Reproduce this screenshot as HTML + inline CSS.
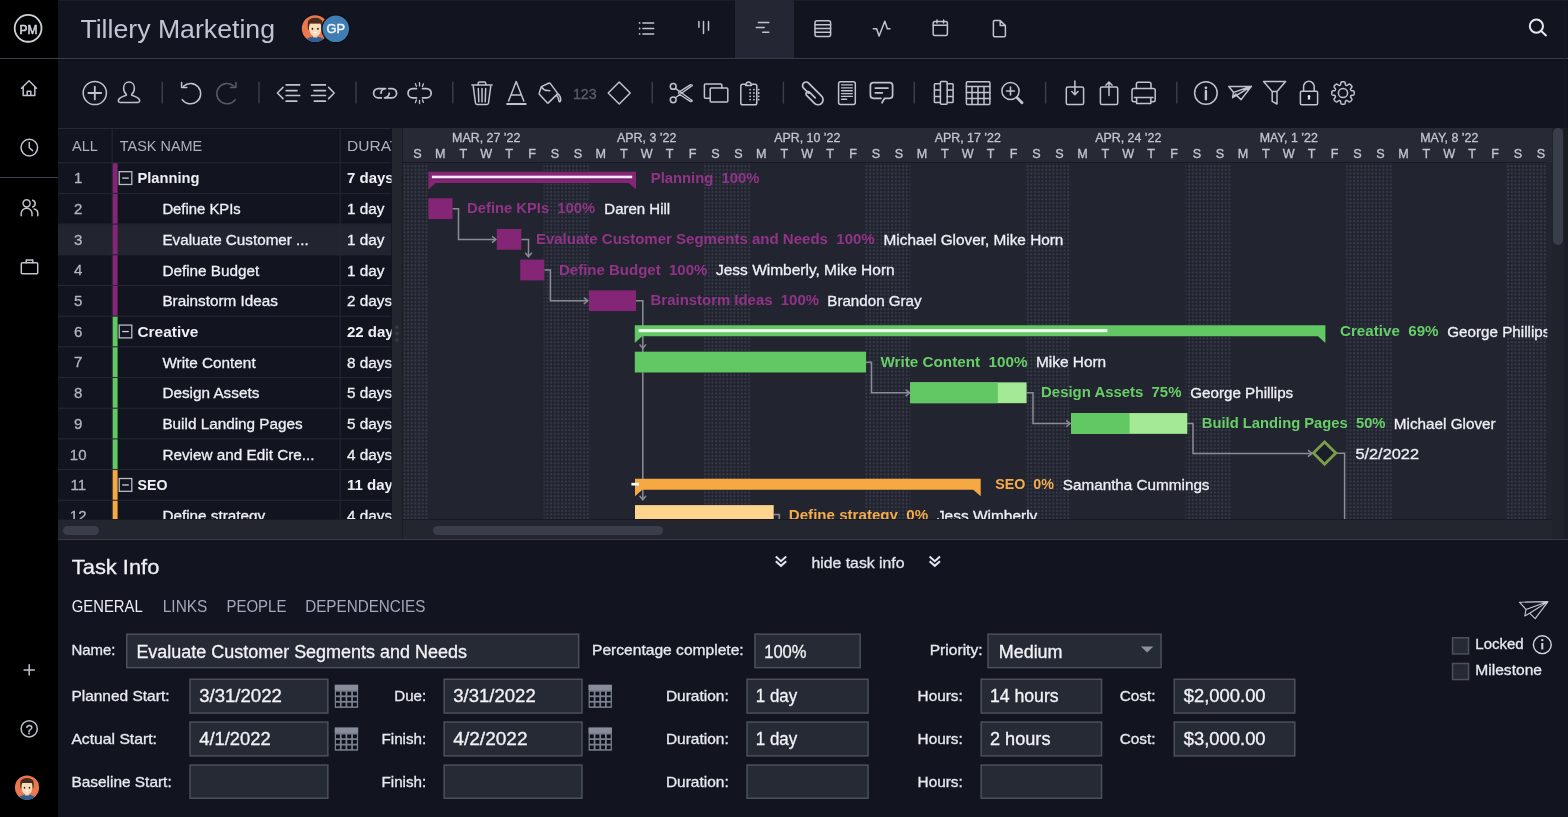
<!DOCTYPE html>
<html lang="en"><head><meta charset="utf-8"><title>Tillery Marketing - Gantt</title>
<style>
*{margin:0;padding:0;box-sizing:border-box}
html,body{width:1568px;height:817px;overflow:hidden;background:#121520;font-family:'Liberation Sans', Arial, Helvetica, sans-serif}
.abs{position:absolute}
svg.ov{position:absolute;left:0;top:0;overflow:hidden;will-change:transform}
svg text{font-family:'Liberation Sans', Arial, Helvetica, sans-serif}
.ic{fill:none;stroke:#c1c3cd;stroke-width:1.5;stroke-linecap:round;stroke-linejoin:round}
</style></head><body>

<div class="abs" style="left:0px;top:0px;width:58.00px;height:817.00px;background:#000000;"></div>
<div class="abs" style="left:58px;top:0px;width:1510.00px;height:57.90px;background:#121520;"></div>
<div class="abs" style="left:58px;top:0px;width:1510.00px;height:1.00px;background:#1b1e29;"></div>
<div class="abs" style="left:734.5px;top:0px;width:59.50px;height:57.90px;background:#242733;"></div>
<div class="abs" style="left:0px;top:57.9px;width:1568.00px;height:1.30px;background:#3b3e4b;"></div>
<div class="abs" style="left:58px;top:59.2px;width:1510.00px;height:1.00px;background:#0d1019;"></div>
<div class="abs" style="left:58px;top:60.2px;width:1510.00px;height:67.80px;background:#121520;"></div>
<div class="abs" style="left:0px;top:177.3px;width:58.00px;height:1.20px;background:#3b3e4b;"></div>
<div class="abs" style="left:58px;top:128px;width:333.50px;height:391.00px;background:#121520;"></div>
<div class="abs" style="left:391.5px;top:128px;width:10.80px;height:412.00px;background:#23262f;"></div>
<div class="abs" style="left:402.3px;top:128px;width:0.90px;height:412.00px;background:#1a1d26;"></div>
<div class="abs" style="left:403.2px;top:128px;width:1149.10px;height:391.00px;background:#22252f;"></div>
<div class="abs" style="left:403.2px;top:128px;width:1149.10px;height:34.20px;background:#272a35;"></div>
<div class="abs" style="left:403.2px;top:162.1px;width:1143.30px;height:1.40px;background:#171a22;"></div>
<div class="abs" style="left:1552.3px;top:128px;width:15.70px;height:412.00px;background:#20232c;"></div>
<div class="abs" style="left:1563.5px;top:128px;width:4.50px;height:412.00px;background:#1a1d26;"></div>
<div class="abs" style="left:1563.6px;top:0px;width:1.00px;height:128.00px;background:#161923;"></div>
<div class="abs" style="left:1553.4px;top:128.2px;width:9.70px;height:117.30px;background:#3a3e4b;border-radius:5px"></div>
<div class="abs" style="left:58px;top:519px;width:333.50px;height:21.00px;background:#23262f;"></div>
<div class="abs" style="left:403.2px;top:519px;width:1149.10px;height:21.00px;background:#23262f;"></div>
<div class="abs" style="left:62.5px;top:525.5px;width:36.50px;height:9.00px;background:#3a3e4b;border-radius:5px"></div>
<div class="abs" style="left:433px;top:525.5px;width:230.00px;height:9.00px;background:#3a3e4b;border-radius:5px"></div>
<div class="abs" style="left:58px;top:538.8px;width:1510.00px;height:1.60px;background:#383b47;"></div>
<div class="abs" style="left:58px;top:518.6px;width:333.50px;height:1.00px;background:#171a22;"></div>
<div class="abs" style="left:403.2px;top:518.6px;width:1149.10px;height:1.00px;background:#171a22;"></div>
<div class="abs" style="left:58px;top:540.2px;width:1510.00px;height:276.80px;background:#121520;"></div>
<svg class="ov" width="1568" height="817" viewBox="0 0 1568 817"><circle cx="28.1" cy="28.35" r="13.4" fill="none" stroke="#cfd1d8" stroke-width="1.8"/>
<text x="19.50" y="33.70" font-size="13.2" fill="#d3d5dd" textLength="17.9" lengthAdjust="spacingAndGlyphs" stroke="#d3d5dd" stroke-width="0.6">PM</text>
<path class="ic" d="M21.5,88.2 L29,80.8 L36.5,88.2 M23.2,86.6 V95.6 H34.8 V86.6 M27.2,95.6 V91.2 H30.8 V95.6"/>
<circle class="ic" cx="29.3" cy="147.6" r="8.3"/><path class="ic" d="M29.3,142.6 V147.8 L32.6,150.6"/>
<path class="ic" d="M26.6,199.8 a3.6,3.6 0 1,1 -0.01,0 Z M21.2,215.8 v-2.2 a5.4,5.4 0 0,1 10.8,0 v2.2 M32.6,200.3 a3.4,3.4 0 0,1 0,6.6 M34.2,209 a4.6,4.6 0 0,1 3.6,4.6 v2.2"/>
<rect class="ic" x="21.3" y="262.8" width="16.4" height="11" rx="1"/><path class="ic" d="M26.2,262.8 v-2.8 h6.6 v2.8"/>
<path class="ic" d="M29.2,664.8 V675 M24.1,669.9 H34.3"/>
<circle class="ic" cx="29.2" cy="728.8" r="8.1"/>
<text x="29.20" y="733.60" font-size="12.5" fill="#c9cbd5" text-anchor="middle" stroke="#c9cbd5" stroke-width="0.3">?</text>
<g transform="translate(27,787.6) scale(1.008)"><circle r="12" fill="#e9784e"/><clipPath id="avc27"><circle r="12"/></clipPath><g clip-path="url(#avc27)" transform="translate(0,0)"><path d="M-9,13 Q-8.5,7.6 -2,7.2 H2 Q8.5,7.6 9,13 Z" fill="#2d5f98"/><path d="M-1.8,4.5 h3.6 v3.4 h-3.6 Z" fill="#f4cfa8"/><path d="M-5.8,-4.5 Q-6,6.8 0,6.9 Q6,6.8 5.8,-4.5 Z" fill="#f9dcb9"/><path d="M-6.4,1 Q-7.2,-5 -6,-7.4 Q-3,-9.8 0,-9.6 Q3,-9.8 6,-7.4 Q7.2,-5 6.4,1 L5.6,1 Q5.6,-3.4 4.6,-4.6 H-4.6 Q-5.6,-3.4 -5.6,1 Z" fill="#4b2d1f"/><ellipse cx="-2.5" cy="0.2" rx="0.8" ry="1" fill="#3a2418"/><ellipse cx="2.5" cy="0.2" rx="0.8" ry="1" fill="#3a2418"/><path d="M-1.8,3 Q0,5 1.8,3 Z" fill="#ffffff"/></g></g>
<text x="80.40" y="37.80" font-size="26" fill="#c2c4d3" textLength="194.6" lengthAdjust="spacingAndGlyphs" stroke="none">Tillery Marketing</text>
<circle cx="315.2" cy="28.6" r="14.4" fill="#0d0f18"/><g transform="translate(315.2,28.6) scale(1.117)"><circle r="12" fill="#e9784e"/><clipPath id="avc315"><circle r="12"/></clipPath><g clip-path="url(#avc315)" transform="translate(0,0)"><path d="M-9,13 Q-8.5,7.6 -2,7.2 H2 Q8.5,7.6 9,13 Z" fill="#2d5f98"/><path d="M-1.8,4.5 h3.6 v3.4 h-3.6 Z" fill="#f4cfa8"/><path d="M-5.8,-4.5 Q-6,6.8 0,6.9 Q6,6.8 5.8,-4.5 Z" fill="#f9dcb9"/><path d="M-6.4,1 Q-7.2,-5 -6,-7.4 Q-3,-9.8 0,-9.6 Q3,-9.8 6,-7.4 Q7.2,-5 6.4,1 L5.6,1 Q5.6,-3.4 4.6,-4.6 H-4.6 Q-5.6,-3.4 -5.6,1 Z" fill="#4b2d1f"/><ellipse cx="-2.5" cy="0.2" rx="0.8" ry="1" fill="#3a2418"/><ellipse cx="2.5" cy="0.2" rx="0.8" ry="1" fill="#3a2418"/><path d="M-1.8,3 Q0,5 1.8,3 Z" fill="#ffffff"/></g></g>
<circle cx="335.8" cy="28.8" r="14.6" fill="#0d0f18"/><circle cx="335.8" cy="28.8" r="13.3" fill="#3f7db4"/>
<text x="335.80" y="33.30" font-size="12.8" fill="#f4f6fa" text-anchor="middle" stroke="#f4f6fa" stroke-width="0.45">GP</text>
<g class="ic" stroke-width="1.8"><path d="M642.9,22.9 H653.7 M642.9,28.5 H653.7 M642.9,33.9 H653.7"/></g>
<g fill="#c1c3cd"><circle cx="639.6" cy="22.9" r="0.9"/><circle cx="639.6" cy="28.5" r="0.9"/><circle cx="639.6" cy="33.9" r="0.9"/></g>
<path class="ic" stroke-width="1.6" d="M698.9,21.5 V27.2 M703.5,21.5 V33.4 M708.5,21.5 V30.3"/>
<path class="ic" stroke-width="1.6" d="M758.4,22.4 H768.8 M756.3,27.5 H764.2 M762.7,32.3 H768.8"/>
<g class="ic"><rect x="815" y="20.7" width="15.6" height="15.8" rx="2"/><path d="M815,24.8 H830.6 M815,28.6 H830.6 M815,32.3 H830.6"/></g>
<polyline class="ic" points="873.3,28.7 876.6,28.7 879.1,36 884.8,21.2 887.4,28.7 890,28.7"/>
<g class="ic"><rect x="933.2" y="21.6" width="14.2" height="14" rx="1.5"/><path d="M933.2,25.3 H947.4 M937,20 V23 M943.6,20 V23"/></g>
<path class="ic" d="M994.6,20.6 H1000.2 L1005.4,25.6 V35.6 Q1005.4,36.8 1004.2,36.8 H994.6 Q993.4,36.8 993.4,35.6 V21.8 Q993.4,20.6 994.6,20.6 Z M1000.2,20.6 V25.6 H1005.4"/>
<g fill="none" stroke="#e6e8ee" stroke-width="2" stroke-linecap="round"><circle cx="1536.4" cy="26.1" r="6.6"/><path d="M1541.2,31 L1546,35.4"/></g>
<path d="M162.3,81.8 V103.6" stroke="#3d404b" stroke-width="1.4"/>
<path d="M259,81.8 V103.6" stroke="#3d404b" stroke-width="1.4"/>
<path d="M356,81.8 V103.6" stroke="#3d404b" stroke-width="1.4"/>
<path d="M452.8,81.8 V103.6" stroke="#3d404b" stroke-width="1.4"/>
<path d="M652.3,81.8 V103.6" stroke="#3d404b" stroke-width="1.4"/>
<path d="M783.4,81.8 V103.6" stroke="#3d404b" stroke-width="1.4"/>
<path d="M914.3,81.8 V103.6" stroke="#3d404b" stroke-width="1.4"/>
<path d="M1045.6,81.8 V103.6" stroke="#3d404b" stroke-width="1.4"/>
<path d="M1176.8,81.8 V103.6" stroke="#3d404b" stroke-width="1.4"/>
<g class="ic">
<circle cx="94.8" cy="93" r="11.6"/><path d="M88.4,93 H101.2 M94.8,86.6 V99.4" stroke-width="1.8"/>
<path d="M129,81.9 C125.9,81.9 123.6,84.5 123.6,88 C123.6,90.8 124.8,93.1 126.3,94.3 L126.3,95.3 C122.8,96.3 119.2,97.6 118.4,100.2 C118.1,101.3 118.6,102.4 120,102.4 L138,102.4 C139.4,102.4 139.9,101.3 139.6,100.2 C138.8,97.6 135.2,96.3 131.7,95.3 L131.7,94.3 C133.2,93.1 134.4,90.8 134.4,88 C134.4,84.5 132.1,81.9 129,81.9 Z"/>
<path d="M183.5,86.2 A10.2,10.2 0 1,1 182.2,99.6"/><path d="M181.6,82.6 V87.4 H186.8"/>
</g>
<g class="ic" style="stroke:#585b66"><path d="M234,86.2 A10.2,10.2 0 1,0 235.3,99.6"/><path d="M235.9,82.6 V87.4 H230.7"/></g>
<g class="ic">
<path d="M283,87.4 L277.4,93 L283,98.6"/><path d="M286.2,84.9 H299.6 M286.2,90.6 H297 M286.2,95.5 H299.6 M286.2,101.2 H296.8" stroke-width="1.7"/>
<path d="M328.6,87.4 L334.2,93 L328.6,98.6"/><path d="M311.6,84.9 H325.4 M314,90.6 H325.4 M311.6,95.5 H325.4 M314.4,101.2 H325.4" stroke-width="1.7"/>
<path d="M384.5,88.6 H378.2 A4.6,4.6 0 0,0 378.2,97.8 H381.4 M385.4,97.8 H392 A4.6,4.6 0 0,0 392,88.6 H388.8" stroke-width="1.7"/><path d="M381,93.2 A4.6,4.6 0 0,1 385.6,88.6 M389.2,93.2 A4.6,4.6 0 0,1 384.6,97.8" stroke-width="1.7"/>
<path d="M416.5,88.6 H412.6 A4.6,4.6 0 0,0 412.6,97.8 H416.5 M422.5,88.6 H426.6 A4.6,4.6 0 0,1 426.6,97.8 H422.5" stroke-width="1.7"/><path d="M415.4,83.6 L416.4,86.4 M419.5,82.6 V85.9 M423.4,83.8 L422.4,86.4 M415.4,102.6 L416.4,99.8 M419.5,103.6 V100.3 M423.4,102.4 L422.4,99.8" stroke-width="1.3"/>
<path d="M471.9,85 H492.1 M478.1,84.6 V83.4 Q478.1,82 479.5,82 H484.4 Q485.8,82 485.8,83.4 V84.6 M473.3,86.6 L475.5,103 Q475.7,104.4 477.1,104.4 H486.9 Q488.3,104.4 488.5,103 L490.7,86.6 M478.3,88.4 L478.8,101.8 M482,88.4 V101.8 M485.7,88.4 L485.2,101.8"/>
<path d="M508.6,101 L516.2,81.6 L523.8,101 M511.2,95 H521.4"/><path d="M507.2,104 H525.6" stroke-width="2.2"/>
<path d="M541.4,86.6 L548.6,83.2 Q549.6,82.8 550.4,83.6 L557.8,93.6 L548.6,102.6 Q547.8,103.4 547,102.6 L539.4,94.2 Q538.8,93.4 539.4,92.6 Z M542.2,87.6 Q543.8,90.6 547.6,90.6 L549.8,90.8 M557.8,93.6 Q561.2,96.6 560.6,100.8 Q560,102.6 559,101.2 Q558.6,97.8 556.8,95.4"/>
</g>
<text x="572.90" y="98.50" font-size="15" fill="#5c5f6b" textLength="23.8" lengthAdjust="spacingAndGlyphs" stroke="#5c5f6b" stroke-width="0.3">123</text>
<g class="ic">
<path d="M619.2,82 L630.2,93 L619.2,104 L608.2,93 Z"/>
<circle cx="673.2" cy="86.4" r="2.9"/><circle cx="673.2" cy="99.8" r="2.9"/><path d="M675.4,88.4 L692.4,100.8 L690.6,101.6 L678.6,93.8 M675.4,97.8 L692.4,85.4 L690.6,84.6 L678.6,92.4" stroke-width="1.3"/>
<path d="M710.2,98.2 H705.4 Q704.4,98.2 704.4,97.2 V85.1 Q704.4,84.1 705.4,84.1 H720.8 Q721.8,84.1 721.8,85.1 V87.9"/><rect x="710.2" y="87.9" width="17.6" height="14.1" rx="1"/>
<path d="M745.4,84.2 H742.6 Q740.8,84.2 740.8,86 V102.9 Q740.8,104.7 742.6,104.7 H755 Q756.8,104.7 756.8,102.9 V86 Q756.8,84.2 755,84.2 H752 M745.6,85.4 L746.8,82.6 Q748.6,81.3 750.4,82.6 L751.6,85.4 Z"/>
</g>
<circle cx="750.1" cy="89.6" r="0.9" fill="#c1c3cd"/>
<circle cx="750.1" cy="93" r="0.9" fill="#c1c3cd"/>
<circle cx="750.1" cy="96.3" r="0.9" fill="#c1c3cd"/>
<circle cx="750.1" cy="99.6" r="0.9" fill="#c1c3cd"/>
<circle cx="753.9" cy="89.6" r="0.9" fill="#c1c3cd"/>
<circle cx="753.9" cy="93" r="0.9" fill="#c1c3cd"/>
<circle cx="753.9" cy="96.3" r="0.9" fill="#c1c3cd"/>
<circle cx="753.9" cy="99.6" r="0.9" fill="#c1c3cd"/>
<circle cx="758.7" cy="89.6" r="0.9" fill="#c1c3cd"/>
<circle cx="758.7" cy="93" r="0.9" fill="#c1c3cd"/>
<circle cx="758.7" cy="96.3" r="0.9" fill="#c1c3cd"/>
<circle cx="758.7" cy="99.6" r="0.9" fill="#c1c3cd"/>
<g class="ic">
<path d="M808.6,93.2 L803.6,88.2 A3.5,3.5 0 0,1 808.6,83.2 L821.6,96.2 A5,5 0 0,1 814.5,103.3 L806.6,95.4 A2.2,2.2 0 0,1 809.7,92.3 L815.2,97.8" stroke-width="1.7"/>
<rect x="838.6" y="81.8" width="16.7" height="22.6" rx="2"/><path d="M841.6,84.9 H852.3 M841.6,87.9 H852.3 M841.6,90.7 H852.3 M841.6,93.6 H852.3 M841.6,96.4 H852.3 M841.6,99.2 H846.6" stroke-width="1.4"/>
<path d="M884.6,98.3 H889.6 Q892.6,98.3 892.6,95.3 V85.6 Q892.6,82.6 889.6,82.6 H873.4 Q870.4,82.6 870.4,85.6 V95.3 Q870.4,98.3 873.4,98.3 H881 M884.6,98.3 L882,102.8" stroke-width="1.7"/><path d="M875.3,88.1 H888 M875.3,92.8 H882.3" stroke-width="1.7"/>
<rect x="940.4" y="81.6" width="6.8" height="22.6" rx="1"/><path d="M940.4,83.8 H935.2 Q934.4,83.8 934.4,84.6 V101.8 Q934.4,102.6 935.2,102.6 H940.4 M947.2,83.8 H952.3 Q953.1,83.8 953.1,84.6 V101.8 Q953.1,102.6 952.3,102.6 H947.2 M934.4,90 H940.4 M934.4,96.4 H940.4 M947.2,90 H953.1 M947.2,96.4 H953.1"/>
<rect x="966.4" y="81.8" width="23.5" height="22.6" rx="1"/><path d="M966.4,86.6 H989.9 M966.4,92.6 H989.9 M966.4,98.6 H989.9 M972,86.6 V104.4 M978,86.6 V104.4 M984,86.6 V104.4"/>
<circle cx="1010.5" cy="91" r="8.6"/><path d="M1017,97.6 L1022,102.8" stroke-width="2.8"/><path d="M1006.6,91 H1014.4 M1010.5,87.1 V94.9" stroke-width="1.6"/>
<rect x="1066.3" y="87" width="17.3" height="17.6" rx="1.6"/><path d="M1074.9,81 V94.6 M1071.8,91.6 L1074.9,94.8 L1078,91.6"/>
<rect x="1100.4" y="87" width="17.3" height="17.6" rx="1.6"/><path d="M1109,95.4 V82.2 M1105.9,85.2 L1109,82 L1112.1,85.2"/>
<path d="M1136.4,88.4 V84 Q1136.4,82.2 1138.2,82.2 H1149.2 Q1151,82.2 1151,84 V88.4"/><path d="M1136,101.8 H1134 Q1132,101.8 1132,99.8 V90.6 Q1132,88.6 1134,88.6 H1153.2 Q1155.2,88.6 1155.2,90.6 V99.8 Q1155.2,101.8 1153.2,101.8 H1151.4"/><path d="M1134.4,97.4 H1153 M1136.6,97.6 V103.6 H1150.8 V97.6"/>
<circle cx="1205.9" cy="93" r="11.3"/><path d="M1205.9,91 V99.2" stroke-width="2.4"/>
</g>
<circle cx="1205.9" cy="87.8" r="1.4" fill="#c1c3cd"/>
<g class="ic" stroke-width="1.2">
<path d="M1228.8,86.6 L1251.4,86.3 L1241.1,99.6 L1236.4,95.4 L1232.6,97.6 L1233.6,92.4 Z M1233.6,92.4 L1251.4,86.3 M1236.4,95.4 L1251.4,86.3 M1232.6,97.6 L1236,94"/>
<path d="M1263.6,81.6 H1285.6 L1277,91.6 V104 L1272.2,101.4 V91.6 Z M1272.2,91.6 H1277" stroke-width="1.5"/>
</g>
<g class="ic">
<rect x="1300.4" y="91.3" width="17.2" height="13.4" rx="1.2"/><path d="M1303.6,91.3 V86.6 A5.3,5.3 0 0,1 1314.2,86.6 V91.3"/>
</g>
<path d="M1307.7,99.6 L1308.2,96.6 H1309.8 L1310.3,99.6 Z" fill="#e8e9ee"/><circle cx="1309" cy="96.2" r="1.25" fill="#e8e9ee"/>
<path class="ic" d="M1354.20,93.00 L1354.20,93.29 L1354.18,93.59 L1354.16,93.88 L1354.12,94.17 L1354.05,94.45 L1353.92,94.73 L1353.65,94.97 L1353.13,95.15 L1352.40,95.26 L1351.72,95.34 L1351.28,95.45 L1351.03,95.61 L1350.87,95.79 L1350.76,95.98 L1350.67,96.18 L1350.59,96.38 L1350.54,96.59 L1350.52,96.83 L1350.59,97.12 L1350.82,97.52 L1351.24,98.05 L1351.69,98.64 L1351.92,99.13 L1351.94,99.50 L1351.84,99.78 L1351.69,100.03 L1351.51,100.27 L1351.32,100.49 L1351.12,100.71 L1350.92,100.92 L1350.71,101.12 L1350.49,101.32 L1350.27,101.51 L1350.03,101.69 L1349.78,101.84 L1349.50,101.94 L1349.13,101.92 L1348.64,101.69 L1348.05,101.24 L1347.52,100.82 L1347.12,100.59 L1346.83,100.52 L1346.59,100.54 L1346.38,100.59 L1346.18,100.67 L1345.98,100.76 L1345.79,100.87 L1345.61,101.03 L1345.45,101.28 L1345.34,101.72 L1345.26,102.40 L1345.15,103.13 L1344.97,103.65 L1344.73,103.92 L1344.45,104.05 L1344.17,104.12 L1343.88,104.16 L1343.59,104.18 L1343.29,104.20 L1343.00,104.20 L1342.71,104.20 L1342.41,104.18 L1342.12,104.16 L1341.83,104.12 L1341.55,104.05 L1341.27,103.92 L1341.03,103.65 L1340.85,103.13 L1340.74,102.40 L1340.66,101.72 L1340.55,101.28 L1340.39,101.03 L1340.21,100.87 L1340.02,100.76 L1339.82,100.67 L1339.62,100.59 L1339.41,100.54 L1339.17,100.52 L1338.88,100.59 L1338.48,100.82 L1337.95,101.24 L1337.36,101.69 L1336.87,101.92 L1336.50,101.94 L1336.22,101.84 L1335.97,101.69 L1335.73,101.51 L1335.51,101.32 L1335.29,101.12 L1335.08,100.92 L1334.88,100.71 L1334.68,100.49 L1334.49,100.27 L1334.31,100.03 L1334.16,99.78 L1334.06,99.50 L1334.08,99.13 L1334.31,98.64 L1334.76,98.05 L1335.18,97.52 L1335.41,97.12 L1335.48,96.83 L1335.46,96.59 L1335.41,96.38 L1335.33,96.18 L1335.24,95.98 L1335.13,95.79 L1334.97,95.61 L1334.72,95.45 L1334.28,95.34 L1333.60,95.26 L1332.87,95.15 L1332.35,94.97 L1332.08,94.73 L1331.95,94.45 L1331.88,94.17 L1331.84,93.88 L1331.82,93.59 L1331.80,93.29 L1331.80,93.00 L1331.80,92.71 L1331.82,92.41 L1331.84,92.12 L1331.88,91.83 L1331.95,91.55 L1332.08,91.27 L1332.35,91.03 L1332.87,90.85 L1333.60,90.74 L1334.28,90.66 L1334.72,90.55 L1334.97,90.39 L1335.13,90.21 L1335.24,90.02 L1335.33,89.82 L1335.41,89.62 L1335.46,89.41 L1335.48,89.17 L1335.41,88.88 L1335.18,88.48 L1334.76,87.95 L1334.31,87.36 L1334.08,86.87 L1334.06,86.50 L1334.16,86.22 L1334.31,85.97 L1334.49,85.73 L1334.68,85.51 L1334.88,85.29 L1335.08,85.08 L1335.29,84.88 L1335.51,84.68 L1335.73,84.49 L1335.97,84.31 L1336.22,84.16 L1336.50,84.06 L1336.87,84.08 L1337.36,84.31 L1337.95,84.76 L1338.48,85.18 L1338.88,85.41 L1339.17,85.48 L1339.41,85.46 L1339.62,85.41 L1339.82,85.33 L1340.02,85.24 L1340.21,85.13 L1340.39,84.97 L1340.55,84.72 L1340.66,84.28 L1340.74,83.60 L1340.85,82.87 L1341.03,82.35 L1341.27,82.08 L1341.55,81.95 L1341.83,81.88 L1342.12,81.84 L1342.41,81.82 L1342.71,81.80 L1343.00,81.80 L1343.29,81.80 L1343.59,81.82 L1343.88,81.84 L1344.17,81.88 L1344.45,81.95 L1344.73,82.08 L1344.97,82.35 L1345.15,82.87 L1345.26,83.60 L1345.34,84.28 L1345.45,84.72 L1345.61,84.97 L1345.79,85.13 L1345.98,85.24 L1346.18,85.33 L1346.38,85.41 L1346.59,85.46 L1346.83,85.48 L1347.12,85.41 L1347.52,85.18 L1348.05,84.76 L1348.64,84.31 L1349.13,84.08 L1349.50,84.06 L1349.78,84.16 L1350.03,84.31 L1350.27,84.49 L1350.49,84.68 L1350.71,84.88 L1350.92,85.08 L1351.12,85.29 L1351.32,85.51 L1351.51,85.73 L1351.69,85.97 L1351.84,86.22 L1351.94,86.50 L1351.92,86.87 L1351.69,87.36 L1351.24,87.95 L1350.82,88.48 L1350.59,88.88 L1350.52,89.17 L1350.54,89.41 L1350.59,89.62 L1350.67,89.82 L1350.76,90.02 L1350.87,90.21 L1351.03,90.39 L1351.28,90.55 L1351.72,90.66 L1352.40,90.74 L1353.13,90.85 L1353.65,91.03 L1353.92,91.27 L1354.05,91.55 L1354.12,91.83 L1354.16,92.12 L1354.18,92.41 L1354.20,92.71 Z"/><circle class="ic" cx="1343" cy="93" r="4.6"/>
<svg x="58" y="128" width="333.5" height="391" viewBox="58 128 333.5 391" overflow="hidden">
<rect x="58.00" y="224.59" width="333.50" height="30.19" fill="#22252f"/>
<rect x="58.00" y="128.00" width="333.50" height="1.00" fill="#262935"/>
<rect x="58.00" y="162.22" width="333.50" height="1.00" fill="#262935"/>
<rect x="58.00" y="192.91" width="333.50" height="1.00" fill="#262935"/>
<rect x="58.00" y="223.59" width="333.50" height="1.00" fill="#262935"/>
<rect x="58.00" y="254.28" width="333.50" height="1.00" fill="#262935"/>
<rect x="58.00" y="284.96" width="333.50" height="1.00" fill="#262935"/>
<rect x="58.00" y="315.65" width="333.50" height="1.00" fill="#262935"/>
<rect x="58.00" y="346.34" width="333.50" height="1.00" fill="#262935"/>
<rect x="58.00" y="377.02" width="333.50" height="1.00" fill="#262935"/>
<rect x="58.00" y="407.71" width="333.50" height="1.00" fill="#262935"/>
<rect x="58.00" y="438.39" width="333.50" height="1.00" fill="#262935"/>
<rect x="58.00" y="469.08" width="333.50" height="1.00" fill="#262935"/>
<rect x="58.00" y="499.77" width="333.50" height="1.00" fill="#262935"/>
<rect x="58.00" y="530.45" width="333.50" height="1.00" fill="#262935"/>
<rect x="111.60" y="128.00" width="1.00" height="391.00" fill="#262935"/>
<rect x="339.60" y="128.00" width="1.00" height="391.00" fill="#262935"/>
<text x="72.00" y="150.50" font-size="14.5" fill="#aeb0bd" textLength="25.8" lengthAdjust="spacingAndGlyphs" stroke="none">ALL</text>
<text x="119.80" y="150.50" font-size="14.5" fill="#aeb0bd" textLength="82.4" lengthAdjust="spacingAndGlyphs" stroke="none">TASK NAME</text>
<text x="347.00" y="150.50" font-size="14.5" fill="#aeb0bd" textLength="80.0" lengthAdjust="spacingAndGlyphs" stroke="none">DURATION</text>
<rect x="112.70" y="163.22" width="4.90" height="29.69" fill="#842576"/>
<text x="78.20" y="183.36" font-size="15" fill="#b3b5c1" text-anchor="middle" stroke="#b3b5c1" stroke-width="0.3">1</text>
<rect x="119.2" y="171.66" width="12.6" height="12.8" fill="none" stroke="#b9bbc6" stroke-width="1.3"/>
<rect x="122.20" y="177.46" width="6.60" height="1.30" fill="#d0d2da"/>
<text x="137.50" y="183.16" font-size="15" fill="#eef0f5" font-weight="bold" textLength="62.0" lengthAdjust="spacingAndGlyphs">Planning</text>
<text x="347.00" y="183.16" font-size="15" fill="#eef0f5" font-weight="bold">7 days</text>
<rect x="112.70" y="193.91" width="4.90" height="29.69" fill="#842576"/>
<text x="78.20" y="214.05" font-size="15" fill="#b3b5c1" text-anchor="middle" stroke="#b3b5c1" stroke-width="0.3">2</text>
<text x="162.40" y="214.15" font-size="15.3" fill="#eef0f5" textLength="78.4" lengthAdjust="spacingAndGlyphs" stroke="#eef0f5" stroke-width="0.3">Define KPIs</text>
<text x="347.00" y="214.15" font-size="15.3" fill="#eef0f5" stroke="#eef0f5" stroke-width="0.3">1 day</text>
<rect x="112.70" y="224.59" width="4.90" height="29.69" fill="#842576"/>
<text x="78.20" y="244.74" font-size="15" fill="#b3b5c1" text-anchor="middle" stroke="#b3b5c1" stroke-width="0.3">3</text>
<text x="162.40" y="244.84" font-size="15.3" fill="#eef0f5" textLength="146.4" lengthAdjust="spacingAndGlyphs" stroke="#eef0f5" stroke-width="0.3">Evaluate Customer ...</text>
<text x="347.00" y="244.84" font-size="15.3" fill="#eef0f5" stroke="#eef0f5" stroke-width="0.3">1 day</text>
<rect x="112.70" y="255.28" width="4.90" height="29.69" fill="#842576"/>
<text x="78.20" y="275.42" font-size="15" fill="#b3b5c1" text-anchor="middle" stroke="#b3b5c1" stroke-width="0.3">4</text>
<text x="162.40" y="275.52" font-size="15.3" fill="#eef0f5" stroke="#eef0f5" stroke-width="0.3">Define Budget</text>
<text x="347.00" y="275.52" font-size="15.3" fill="#eef0f5" stroke="#eef0f5" stroke-width="0.3">1 day</text>
<rect x="112.70" y="285.96" width="4.90" height="29.69" fill="#842576"/>
<text x="78.20" y="306.11" font-size="15" fill="#b3b5c1" text-anchor="middle" stroke="#b3b5c1" stroke-width="0.3">5</text>
<text x="162.40" y="306.21" font-size="15.3" fill="#eef0f5" stroke="#eef0f5" stroke-width="0.3">Brainstorm Ideas</text>
<text x="347.00" y="306.21" font-size="15.3" fill="#eef0f5" stroke="#eef0f5" stroke-width="0.3">2 days</text>
<rect x="112.70" y="316.65" width="4.90" height="29.69" fill="#62c864"/>
<text x="78.20" y="336.79" font-size="15" fill="#b3b5c1" text-anchor="middle" stroke="#b3b5c1" stroke-width="0.3">6</text>
<rect x="119.2" y="325.09" width="12.6" height="12.8" fill="none" stroke="#b9bbc6" stroke-width="1.3"/>
<rect x="122.20" y="330.89" width="6.60" height="1.30" fill="#d0d2da"/>
<text x="137.50" y="336.59" font-size="15" fill="#eef0f5" font-weight="bold" textLength="60.8" lengthAdjust="spacingAndGlyphs">Creative</text>
<text x="347.00" y="336.59" font-size="15" fill="#eef0f5" font-weight="bold">22 days</text>
<rect x="112.70" y="347.34" width="4.90" height="29.69" fill="#62c864"/>
<text x="78.20" y="367.48" font-size="15" fill="#b3b5c1" text-anchor="middle" stroke="#b3b5c1" stroke-width="0.3">7</text>
<text x="162.40" y="367.58" font-size="15.3" fill="#eef0f5" stroke="#eef0f5" stroke-width="0.3">Write Content</text>
<text x="347.00" y="367.58" font-size="15.3" fill="#eef0f5" stroke="#eef0f5" stroke-width="0.3">8 days</text>
<rect x="112.70" y="378.02" width="4.90" height="29.69" fill="#62c864"/>
<text x="78.20" y="398.17" font-size="15" fill="#b3b5c1" text-anchor="middle" stroke="#b3b5c1" stroke-width="0.3">8</text>
<text x="162.40" y="398.26" font-size="15.3" fill="#eef0f5" stroke="#eef0f5" stroke-width="0.3">Design Assets</text>
<text x="347.00" y="398.26" font-size="15.3" fill="#eef0f5" stroke="#eef0f5" stroke-width="0.3">5 days</text>
<rect x="112.70" y="408.71" width="4.90" height="29.69" fill="#62c864"/>
<text x="78.20" y="428.85" font-size="15" fill="#b3b5c1" text-anchor="middle" stroke="#b3b5c1" stroke-width="0.3">9</text>
<text x="162.40" y="428.95" font-size="15.3" fill="#eef0f5" stroke="#eef0f5" stroke-width="0.3">Build Landing Pages</text>
<text x="347.00" y="428.95" font-size="15.3" fill="#eef0f5" stroke="#eef0f5" stroke-width="0.3">5 days</text>
<rect x="112.70" y="439.39" width="4.90" height="29.69" fill="#62c864"/>
<text x="78.20" y="459.54" font-size="15" fill="#b3b5c1" text-anchor="middle" stroke="#b3b5c1" stroke-width="0.3">10</text>
<text x="162.40" y="459.64" font-size="15.3" fill="#eef0f5" stroke="#eef0f5" stroke-width="0.3">Review and Edit Cre...</text>
<text x="347.00" y="459.64" font-size="15.3" fill="#eef0f5" stroke="#eef0f5" stroke-width="0.3">4 days</text>
<rect x="112.70" y="470.08" width="4.90" height="29.69" fill="#f6a843"/>
<text x="78.20" y="490.22" font-size="15" fill="#b3b5c1" text-anchor="middle" stroke="#b3b5c1" stroke-width="0.3">11</text>
<rect x="119.2" y="478.52" width="12.6" height="12.8" fill="none" stroke="#b9bbc6" stroke-width="1.3"/>
<rect x="122.20" y="484.32" width="6.60" height="1.30" fill="#d0d2da"/>
<text x="137.50" y="490.02" font-size="15" fill="#eef0f5" font-weight="bold" textLength="29.9" lengthAdjust="spacingAndGlyphs">SEO</text>
<text x="347.00" y="490.02" font-size="15" fill="#eef0f5" font-weight="bold">11 days</text>
<rect x="112.70" y="500.77" width="4.90" height="29.69" fill="#f6a843"/>
<text x="78.20" y="520.91" font-size="15" fill="#b3b5c1" text-anchor="middle" stroke="#b3b5c1" stroke-width="0.3">12</text>
<text x="162.40" y="521.01" font-size="15.3" fill="#eef0f5" stroke="#eef0f5" stroke-width="0.3">Define strategy</text>
<text x="347.00" y="521.01" font-size="15.3" fill="#eef0f5" stroke="#eef0f5" stroke-width="0.3">4 days</text>
</svg>
<circle cx="396.9" cy="327.1" r="1.9" fill="#363945"/>
<circle cx="396.9" cy="333.5" r="1.9" fill="#363945"/>
<circle cx="396.9" cy="340" r="1.9" fill="#363945"/>
<defs><pattern id="dots" x="0.2" y="0.3" width="11" height="11" patternUnits="userSpaceOnUse"><rect width="11" height="11" fill="#20232d"/><g fill="#3b3f4f"><rect x="0.000" y="0.000" width="1.9" height="1.9"/><rect x="0.000" y="3.667" width="1.9" height="1.9"/><rect x="0.000" y="7.333" width="1.9" height="1.9"/><rect x="3.667" y="0.000" width="1.9" height="1.9"/><rect x="3.667" y="3.667" width="1.9" height="1.9"/><rect x="3.667" y="7.333" width="1.9" height="1.9"/><rect x="7.333" y="0.000" width="1.9" height="1.9"/><rect x="7.333" y="3.667" width="1.9" height="1.9"/><rect x="7.333" y="7.333" width="1.9" height="1.9"/></g></pattern></defs>
<svg x="403.2" y="128" width="1149.1" height="391" viewBox="403.2 128 1149.1 391" overflow="hidden">
<rect x="403.20" y="163.20" width="25.68" height="355.80" fill="url(#dots)"/>
<rect x="543.53" y="163.20" width="45.86" height="355.80" fill="url(#dots)"/>
<rect x="704.04" y="163.20" width="45.86" height="355.80" fill="url(#dots)"/>
<rect x="864.55" y="163.20" width="45.86" height="355.80" fill="url(#dots)"/>
<rect x="1025.06" y="163.20" width="45.86" height="355.80" fill="url(#dots)"/>
<rect x="1185.57" y="163.20" width="45.86" height="355.80" fill="url(#dots)"/>
<rect x="1346.08" y="163.20" width="45.86" height="355.80" fill="url(#dots)"/>
<rect x="1506.59" y="163.20" width="39.41" height="355.80" fill="url(#dots)"/>
<text x="417.41" y="158.30" font-size="12.6" fill="#c3c5cf" text-anchor="middle" stroke="#c3c5cf" stroke-width="0.3">S</text>
<text x="440.34" y="158.30" font-size="12.6" fill="#c3c5cf" text-anchor="middle" stroke="#c3c5cf" stroke-width="0.3">M</text>
<text x="463.27" y="158.30" font-size="12.6" fill="#c3c5cf" text-anchor="middle" stroke="#c3c5cf" stroke-width="0.3">T</text>
<text x="486.20" y="158.30" font-size="12.6" fill="#c3c5cf" text-anchor="middle" stroke="#c3c5cf" stroke-width="0.3">W</text>
<text x="509.13" y="158.30" font-size="12.6" fill="#c3c5cf" text-anchor="middle" stroke="#c3c5cf" stroke-width="0.3">T</text>
<text x="532.07" y="158.30" font-size="12.6" fill="#c3c5cf" text-anchor="middle" stroke="#c3c5cf" stroke-width="0.3">F</text>
<text x="555.00" y="158.30" font-size="12.6" fill="#c3c5cf" text-anchor="middle" stroke="#c3c5cf" stroke-width="0.3">S</text>
<text x="577.93" y="158.30" font-size="12.6" fill="#c3c5cf" text-anchor="middle" stroke="#c3c5cf" stroke-width="0.3">S</text>
<text x="600.86" y="158.30" font-size="12.6" fill="#c3c5cf" text-anchor="middle" stroke="#c3c5cf" stroke-width="0.3">M</text>
<text x="623.78" y="158.30" font-size="12.6" fill="#c3c5cf" text-anchor="middle" stroke="#c3c5cf" stroke-width="0.3">T</text>
<text x="646.72" y="158.30" font-size="12.6" fill="#c3c5cf" text-anchor="middle" stroke="#c3c5cf" stroke-width="0.3">W</text>
<text x="669.64" y="158.30" font-size="12.6" fill="#c3c5cf" text-anchor="middle" stroke="#c3c5cf" stroke-width="0.3">T</text>
<text x="692.57" y="158.30" font-size="12.6" fill="#c3c5cf" text-anchor="middle" stroke="#c3c5cf" stroke-width="0.3">F</text>
<text x="715.50" y="158.30" font-size="12.6" fill="#c3c5cf" text-anchor="middle" stroke="#c3c5cf" stroke-width="0.3">S</text>
<text x="738.44" y="158.30" font-size="12.6" fill="#c3c5cf" text-anchor="middle" stroke="#c3c5cf" stroke-width="0.3">S</text>
<text x="761.37" y="158.30" font-size="12.6" fill="#c3c5cf" text-anchor="middle" stroke="#c3c5cf" stroke-width="0.3">M</text>
<text x="784.29" y="158.30" font-size="12.6" fill="#c3c5cf" text-anchor="middle" stroke="#c3c5cf" stroke-width="0.3">T</text>
<text x="807.23" y="158.30" font-size="12.6" fill="#c3c5cf" text-anchor="middle" stroke="#c3c5cf" stroke-width="0.3">W</text>
<text x="830.16" y="158.30" font-size="12.6" fill="#c3c5cf" text-anchor="middle" stroke="#c3c5cf" stroke-width="0.3">T</text>
<text x="853.09" y="158.30" font-size="12.6" fill="#c3c5cf" text-anchor="middle" stroke="#c3c5cf" stroke-width="0.3">F</text>
<text x="876.01" y="158.30" font-size="12.6" fill="#c3c5cf" text-anchor="middle" stroke="#c3c5cf" stroke-width="0.3">S</text>
<text x="898.95" y="158.30" font-size="12.6" fill="#c3c5cf" text-anchor="middle" stroke="#c3c5cf" stroke-width="0.3">S</text>
<text x="921.88" y="158.30" font-size="12.6" fill="#c3c5cf" text-anchor="middle" stroke="#c3c5cf" stroke-width="0.3">M</text>
<text x="944.80" y="158.30" font-size="12.6" fill="#c3c5cf" text-anchor="middle" stroke="#c3c5cf" stroke-width="0.3">T</text>
<text x="967.74" y="158.30" font-size="12.6" fill="#c3c5cf" text-anchor="middle" stroke="#c3c5cf" stroke-width="0.3">W</text>
<text x="990.67" y="158.30" font-size="12.6" fill="#c3c5cf" text-anchor="middle" stroke="#c3c5cf" stroke-width="0.3">T</text>
<text x="1013.59" y="158.30" font-size="12.6" fill="#c3c5cf" text-anchor="middle" stroke="#c3c5cf" stroke-width="0.3">F</text>
<text x="1036.52" y="158.30" font-size="12.6" fill="#c3c5cf" text-anchor="middle" stroke="#c3c5cf" stroke-width="0.3">S</text>
<text x="1059.45" y="158.30" font-size="12.6" fill="#c3c5cf" text-anchor="middle" stroke="#c3c5cf" stroke-width="0.3">S</text>
<text x="1082.38" y="158.30" font-size="12.6" fill="#c3c5cf" text-anchor="middle" stroke="#c3c5cf" stroke-width="0.3">M</text>
<text x="1105.31" y="158.30" font-size="12.6" fill="#c3c5cf" text-anchor="middle" stroke="#c3c5cf" stroke-width="0.3">T</text>
<text x="1128.24" y="158.30" font-size="12.6" fill="#c3c5cf" text-anchor="middle" stroke="#c3c5cf" stroke-width="0.3">W</text>
<text x="1151.17" y="158.30" font-size="12.6" fill="#c3c5cf" text-anchor="middle" stroke="#c3c5cf" stroke-width="0.3">T</text>
<text x="1174.10" y="158.30" font-size="12.6" fill="#c3c5cf" text-anchor="middle" stroke="#c3c5cf" stroke-width="0.3">F</text>
<text x="1197.03" y="158.30" font-size="12.6" fill="#c3c5cf" text-anchor="middle" stroke="#c3c5cf" stroke-width="0.3">S</text>
<text x="1219.96" y="158.30" font-size="12.6" fill="#c3c5cf" text-anchor="middle" stroke="#c3c5cf" stroke-width="0.3">S</text>
<text x="1242.89" y="158.30" font-size="12.6" fill="#c3c5cf" text-anchor="middle" stroke="#c3c5cf" stroke-width="0.3">M</text>
<text x="1265.82" y="158.30" font-size="12.6" fill="#c3c5cf" text-anchor="middle" stroke="#c3c5cf" stroke-width="0.3">T</text>
<text x="1288.75" y="158.30" font-size="12.6" fill="#c3c5cf" text-anchor="middle" stroke="#c3c5cf" stroke-width="0.3">W</text>
<text x="1311.68" y="158.30" font-size="12.6" fill="#c3c5cf" text-anchor="middle" stroke="#c3c5cf" stroke-width="0.3">T</text>
<text x="1334.62" y="158.30" font-size="12.6" fill="#c3c5cf" text-anchor="middle" stroke="#c3c5cf" stroke-width="0.3">F</text>
<text x="1357.54" y="158.30" font-size="12.6" fill="#c3c5cf" text-anchor="middle" stroke="#c3c5cf" stroke-width="0.3">S</text>
<text x="1380.47" y="158.30" font-size="12.6" fill="#c3c5cf" text-anchor="middle" stroke="#c3c5cf" stroke-width="0.3">S</text>
<text x="1403.40" y="158.30" font-size="12.6" fill="#c3c5cf" text-anchor="middle" stroke="#c3c5cf" stroke-width="0.3">M</text>
<text x="1426.33" y="158.30" font-size="12.6" fill="#c3c5cf" text-anchor="middle" stroke="#c3c5cf" stroke-width="0.3">T</text>
<text x="1449.26" y="158.30" font-size="12.6" fill="#c3c5cf" text-anchor="middle" stroke="#c3c5cf" stroke-width="0.3">W</text>
<text x="1472.19" y="158.30" font-size="12.6" fill="#c3c5cf" text-anchor="middle" stroke="#c3c5cf" stroke-width="0.3">T</text>
<text x="1495.12" y="158.30" font-size="12.6" fill="#c3c5cf" text-anchor="middle" stroke="#c3c5cf" stroke-width="0.3">F</text>
<text x="1518.05" y="158.30" font-size="12.6" fill="#c3c5cf" text-anchor="middle" stroke="#c3c5cf" stroke-width="0.3">S</text>
<text x="1540.98" y="158.30" font-size="12.6" fill="#c3c5cf" text-anchor="middle" stroke="#c3c5cf" stroke-width="0.3">S</text>
<text x="486.20" y="141.70" font-size="12.4" fill="#c3c5cf" text-anchor="middle" stroke="#c3c5cf" stroke-width="0.3">MAR, 27 ’22</text>
<text x="646.71" y="141.70" font-size="12.4" fill="#c3c5cf" text-anchor="middle" stroke="#c3c5cf" stroke-width="0.3">APR, 3 ’22</text>
<text x="807.22" y="141.70" font-size="12.4" fill="#c3c5cf" text-anchor="middle" stroke="#c3c5cf" stroke-width="0.3">APR, 10 ’22</text>
<text x="967.73" y="141.70" font-size="12.4" fill="#c3c5cf" text-anchor="middle" stroke="#c3c5cf" stroke-width="0.3">APR, 17 ’22</text>
<text x="1128.24" y="141.70" font-size="12.4" fill="#c3c5cf" text-anchor="middle" stroke="#c3c5cf" stroke-width="0.3">APR, 24 ’22</text>
<text x="1288.75" y="141.70" font-size="12.4" fill="#c3c5cf" text-anchor="middle" stroke="#c3c5cf" stroke-width="0.3">MAY, 1 ’22</text>
<text x="1449.27" y="141.70" font-size="12.4" fill="#c3c5cf" text-anchor="middle" stroke="#c3c5cf" stroke-width="0.3">MAY, 8 ’22</text>
<path d="M452.5,208.75 H458.5 V239.44 H495.5" fill="none" stroke="#8a8d96" stroke-width="1.5"/>
<path d="M492.00,236.24 L496.00,239.44 L492.00,242.63" fill="none" stroke="#8a8d96" stroke-width="1.5"/>
<path d="M521.3,239.44 H528.5 V256.12" fill="none" stroke="#8a8d96" stroke-width="1.5"/>
<path d="M525.30,252.72 L528.50,256.72 L531.70,252.72" fill="none" stroke="#8a8d96" stroke-width="1.5"/>
<path d="M544.3,270.12 H550.4 V300.81 H587" fill="none" stroke="#8a8d96" stroke-width="1.5"/>
<path d="M583.80,297.61 L587.80,300.81 L583.80,304.01" fill="none" stroke="#8a8d96" stroke-width="1.5"/>
<path d="M636,300.81 H642.8 V499.5" fill="none" stroke="#8a8d96" stroke-width="1.5"/>
<path d="M639.60,344.38 L642.80,348.38 L646.00,344.38" fill="none" stroke="#8a8d96" stroke-width="1.5"/>
<path d="M639.60,495.80 L642.80,499.80 L646.00,495.80" fill="none" stroke="#8a8d96" stroke-width="1.5"/>
<path d="M866,362.18 H871.5 V392.87 H909" fill="none" stroke="#8a8d96" stroke-width="1.5"/>
<path d="M905.60,389.67 L909.60,392.87 L905.60,396.06" fill="none" stroke="#8a8d96" stroke-width="1.5"/>
<path d="M1026.6,392.87 H1033 V423.55 H1069.5" fill="none" stroke="#8a8d96" stroke-width="1.5"/>
<path d="M1066.20,420.35 L1070.20,423.55 L1066.20,426.75" fill="none" stroke="#8a8d96" stroke-width="1.5"/>
<path d="M1187.3,423.55 H1193 V453.40 H1311" fill="none" stroke="#8a8d96" stroke-width="1.5"/>
<path d="M1308.00,450.20 L1312.00,453.40 L1308.00,456.60" fill="none" stroke="#8a8d96" stroke-width="1.5"/>
<path d="M1336,453.30 H1344.6 V520" fill="none" stroke="#8a8d96" stroke-width="1.5"/>
<path d="M773.7,514.41 H779.3 V520" fill="none" stroke="#8a8d96" stroke-width="1.5"/>
<path d="M428.3,171.86 H636 V189.51 L628.60,182.91 H435.70 L428.3,189.51 Z" fill="#842576"/>
<rect x="431.90" y="175.66" width="200.30" height="2.90" fill="#fbe8fb"/>
<rect x="431.90" y="178.56" width="200.30" height="1.00" fill="#6a1a60"/>
<path d="M634.8,325.29 H1325.4 V342.94 L1318.00,336.34 H642.20 L634.8,342.94 Z" fill="#62c864"/>
<rect x="638.60" y="329.09" width="468.80" height="3.10" fill="#f2fbef"/>
<path d="M635,478.72 H980.7 V496.37 L973.30,489.77 H642.40 L635,496.37 Z" fill="#f6a843"/>
<rect x="631.40" y="482.82" width="7.60" height="2.70" fill="#ffffff"/>
<rect x="428.30" y="198.25" width="24.20" height="20.80" fill="#842576"/>
<rect x="496.80" y="228.94" width="24.50" height="20.80" fill="#842576"/>
<rect x="520.20" y="259.62" width="24.10" height="20.80" fill="#842576"/>
<rect x="589.00" y="290.31" width="47.00" height="20.80" fill="#842576"/>
<rect x="634.80" y="351.68" width="231.20" height="20.80" fill="#62c864"/>
<rect x="910.30" y="382.37" width="116.30" height="20.80" fill="#a3e996"/><rect x="910.30" y="382.37" width="87.50" height="20.80" fill="#62c864"/>
<rect x="1071.20" y="413.05" width="116.10" height="20.80" fill="#a3e996"/><rect x="1071.20" y="413.05" width="58.40" height="20.80" fill="#62c864"/>
<rect x="635.00" y="505.11" width="138.70" height="20.80" fill="#fdd48e"/>
<path d="M1324.6,441.90000000000003 L1335.8,453.1 L1324.6,464.3 L1313.3999999999999,453.1 Z" fill="#1a1e28" stroke="#7d9d4c" stroke-width="2.8"/>
<text x="650.80" y="182.51" font-size="14.5" fill="#923388" font-weight="bold" textLength="108.6" lengthAdjust="spacingAndGlyphs">Planning  100%</text>
<text x="467.10" y="213.20" font-size="14.5" fill="#923388" font-weight="bold" textLength="128.0" lengthAdjust="spacingAndGlyphs">Define KPIs  100%</text><text x="604.30" y="213.95" font-size="15" fill="#eef0f5" textLength="65.9" lengthAdjust="spacingAndGlyphs" stroke="#eef0f5" stroke-width="0.3">Daren Hill</text>
<text x="535.90" y="243.88" font-size="14.5" fill="#923388" font-weight="bold" textLength="338.8" lengthAdjust="spacingAndGlyphs">Evaluate Customer Segments and Needs  100%</text><text x="883.60" y="244.63" font-size="15" fill="#eef0f5" textLength="179.8" lengthAdjust="spacingAndGlyphs" stroke="#eef0f5" stroke-width="0.3">Michael Glover, Mike Horn</text>
<text x="559.00" y="274.57" font-size="14.5" fill="#923388" font-weight="bold" textLength="148.3" lengthAdjust="spacingAndGlyphs">Define Budget  100%</text><text x="716.00" y="275.32" font-size="15" fill="#eef0f5" textLength="178.7" lengthAdjust="spacingAndGlyphs" stroke="#eef0f5" stroke-width="0.3">Jess Wimberly, Mike Horn</text>
<text x="650.60" y="305.26" font-size="14.5" fill="#923388" font-weight="bold" textLength="168.4" lengthAdjust="spacingAndGlyphs">Brainstorm Ideas  100%</text><text x="827.30" y="306.01" font-size="15" fill="#eef0f5" textLength="94.3" lengthAdjust="spacingAndGlyphs" stroke="#eef0f5" stroke-width="0.3">Brandon Gray</text>
<text x="1340.00" y="335.94" font-size="14.5" fill="#68cf68" font-weight="bold" textLength="98.6" lengthAdjust="spacingAndGlyphs">Creative  69%</text><text x="1447.30" y="336.69" font-size="15" fill="#eef0f5" textLength="103.0" lengthAdjust="spacingAndGlyphs" stroke="#eef0f5" stroke-width="0.3">George Phillips</text>
<rect x="1547.30" y="321.49" width="5.00" height="20.00" fill="#22252f"/>
<text x="880.40" y="366.63" font-size="14.5" fill="#68cf68" font-weight="bold" textLength="147.2" lengthAdjust="spacingAndGlyphs">Write Content  100%</text><text x="1036.00" y="367.38" font-size="15" fill="#eef0f5" textLength="70.2" lengthAdjust="spacingAndGlyphs" stroke="#eef0f5" stroke-width="0.3">Mike Horn</text>
<text x="1041.10" y="397.31" font-size="14.5" fill="#68cf68" font-weight="bold" textLength="140.3" lengthAdjust="spacingAndGlyphs">Design Assets  75%</text><text x="1190.20" y="398.06" font-size="15" fill="#eef0f5" textLength="103.0" lengthAdjust="spacingAndGlyphs" stroke="#eef0f5" stroke-width="0.3">George Phillips</text>
<text x="1201.80" y="428.00" font-size="14.5" fill="#68cf68" font-weight="bold" textLength="183.7" lengthAdjust="spacingAndGlyphs">Build Landing Pages  50%</text><text x="1393.80" y="428.75" font-size="15" fill="#eef0f5" textLength="101.8" lengthAdjust="spacingAndGlyphs" stroke="#eef0f5" stroke-width="0.3">Michael Glover</text>
<text x="1355.40" y="459.24" font-size="15.3" fill="#eef0f5" textLength="63.6" lengthAdjust="spacingAndGlyphs" stroke="#eef0f5" stroke-width="0.3">5/2/2022</text>
<text x="995.20" y="489.37" font-size="14.5" fill="#f4ab4a" font-weight="bold" textLength="58.7" lengthAdjust="spacingAndGlyphs">SEO  0%</text><text x="1062.80" y="490.12" font-size="15" fill="#eef0f5" textLength="146.7" lengthAdjust="spacingAndGlyphs" stroke="#eef0f5" stroke-width="0.3">Samantha Cummings</text>
<text x="788.80" y="520.06" font-size="14.5" fill="#f4ab4a" font-weight="bold" textLength="139.4" lengthAdjust="spacingAndGlyphs">Define strategy  0%</text><text x="936.90" y="520.81" font-size="15" fill="#eef0f5" textLength="100.4" lengthAdjust="spacingAndGlyphs" stroke="#eef0f5" stroke-width="0.3">Jess Wimberly</text>
</svg>
<text x="71.80" y="573.90" font-size="21" fill="#eef0f5" textLength="87.5" lengthAdjust="spacingAndGlyphs" stroke="#eef0f5" stroke-width="0.3">Task Info</text>
<path d="M775.8,556.6 L781,561.2 L786.2,556.6 M775.8,561.2 L781,565.8 L786.2,561.2" fill="none" stroke="#e6e8ee" stroke-width="2"/>
<text x="811.50" y="568.30" font-size="15" fill="#e4e6ee" textLength="93.0" lengthAdjust="spacingAndGlyphs" stroke="#e4e6ee" stroke-width="0.3">hide task info</text>
<path d="M929.6,556.6 L934.8,561.2 L940,556.6 M929.6,561.2 L934.8,565.8 L940,561.2" fill="none" stroke="#e6e8ee" stroke-width="2"/>
<text x="71.80" y="611.80" font-size="16.2" fill="#eceef3" textLength="70.9" lengthAdjust="spacingAndGlyphs" stroke="none">GENERAL</text>
<text x="162.80" y="611.80" font-size="16.2" fill="#a4a7ba" textLength="44.5" lengthAdjust="spacingAndGlyphs" stroke="none">LINKS</text>
<text x="226.40" y="611.80" font-size="16.2" fill="#a4a7ba" textLength="60.0" lengthAdjust="spacingAndGlyphs" stroke="none">PEOPLE</text>
<text x="305.20" y="611.80" font-size="16.2" fill="#a4a7ba" textLength="120.2" lengthAdjust="spacingAndGlyphs" stroke="none">DEPENDENCIES</text>
<path d="M1519.4,602.2 L1548,601.6 L1535.2,618.6 L1529.6,613.2 L1524.8,616 L1526,609.4 Z M1526,609.4 L1548,601.6 M1529.6,613.2 L1548,601.6" fill="none" stroke="#c9cbd5" stroke-width="1.1" stroke-linejoin="round"/>
<rect x="126.75" y="634.15" width="451.90" height="33.50" fill="#262a35" stroke="#4c505c" stroke-width="1.5"/>
<rect x="754.95" y="634.15" width="105.20" height="33.50" fill="#262a35" stroke="#4c505c" stroke-width="1.5"/>
<rect x="988.05" y="634.15" width="173.00" height="33.50" fill="#262a35" stroke="#4c505c" stroke-width="1.5"/>
<rect x="190.05" y="679.25" width="137.80" height="33.80" fill="#262a35" stroke="#4c505c" stroke-width="1.5"/>
<rect x="444.15" y="679.25" width="137.80" height="33.80" fill="#262a35" stroke="#4c505c" stroke-width="1.5"/>
<rect x="747.05" y="679.25" width="121.00" height="33.80" fill="#262a35" stroke="#4c505c" stroke-width="1.5"/>
<rect x="981.15" y="679.25" width="120.40" height="33.80" fill="#262a35" stroke="#4c505c" stroke-width="1.5"/>
<rect x="190.05" y="722.05" width="137.80" height="33.80" fill="#262a35" stroke="#4c505c" stroke-width="1.5"/>
<rect x="444.15" y="722.05" width="137.80" height="33.80" fill="#262a35" stroke="#4c505c" stroke-width="1.5"/>
<rect x="747.05" y="722.05" width="121.00" height="33.80" fill="#262a35" stroke="#4c505c" stroke-width="1.5"/>
<rect x="981.15" y="722.05" width="120.40" height="33.80" fill="#262a35" stroke="#4c505c" stroke-width="1.5"/>
<rect x="190.05" y="765.05" width="137.80" height="33.20" fill="#262a35" stroke="#4c505c" stroke-width="1.5"/>
<rect x="444.15" y="765.05" width="137.80" height="33.20" fill="#262a35" stroke="#4c505c" stroke-width="1.5"/>
<rect x="747.05" y="765.05" width="121.00" height="33.20" fill="#262a35" stroke="#4c505c" stroke-width="1.5"/>
<rect x="981.15" y="765.05" width="120.40" height="33.20" fill="#262a35" stroke="#4c505c" stroke-width="1.5"/>
<rect x="1174.25" y="679.25" width="120.50" height="33.80" fill="#262a35" stroke="#4c505c" stroke-width="1.5"/>
<rect x="1174.25" y="722.05" width="120.50" height="33.80" fill="#262a35" stroke="#4c505c" stroke-width="1.5"/>
<rect x="334.8" y="684.8" width="23.3" height="23.1" fill="#7b8090"/><rect x="334.8" y="684.8" width="23.3" height="5.2" fill="#888d9b"/><rect x="336.00" y="691.70" width="3.9" height="3.7" fill="#0e1018"/><rect x="341.65" y="691.70" width="3.9" height="3.7" fill="#0e1018"/><rect x="347.30" y="691.70" width="3.9" height="3.7" fill="#0e1018"/><rect x="352.95" y="691.70" width="3.9" height="3.7" fill="#0e1018"/><rect x="336.00" y="697.20" width="3.9" height="3.7" fill="#0e1018"/><rect x="341.65" y="697.20" width="3.9" height="3.7" fill="#0e1018"/><rect x="347.30" y="697.20" width="3.9" height="3.7" fill="#0e1018"/><rect x="352.95" y="697.20" width="3.9" height="3.7" fill="#0e1018"/><rect x="336.00" y="702.70" width="3.9" height="3.7" fill="#0e1018"/><rect x="341.65" y="702.70" width="3.9" height="3.7" fill="#0e1018"/><rect x="347.30" y="702.70" width="3.9" height="3.7" fill="#0e1018"/><rect x="352.95" y="702.70" width="3.9" height="3.7" fill="#0e1018"/>
<rect x="588.6" y="684.8" width="23.3" height="23.1" fill="#7b8090"/><rect x="588.6" y="684.8" width="23.3" height="5.2" fill="#888d9b"/><rect x="589.80" y="691.70" width="3.9" height="3.7" fill="#0e1018"/><rect x="595.45" y="691.70" width="3.9" height="3.7" fill="#0e1018"/><rect x="601.10" y="691.70" width="3.9" height="3.7" fill="#0e1018"/><rect x="606.75" y="691.70" width="3.9" height="3.7" fill="#0e1018"/><rect x="589.80" y="697.20" width="3.9" height="3.7" fill="#0e1018"/><rect x="595.45" y="697.20" width="3.9" height="3.7" fill="#0e1018"/><rect x="601.10" y="697.20" width="3.9" height="3.7" fill="#0e1018"/><rect x="606.75" y="697.20" width="3.9" height="3.7" fill="#0e1018"/><rect x="589.80" y="702.70" width="3.9" height="3.7" fill="#0e1018"/><rect x="595.45" y="702.70" width="3.9" height="3.7" fill="#0e1018"/><rect x="601.10" y="702.70" width="3.9" height="3.7" fill="#0e1018"/><rect x="606.75" y="702.70" width="3.9" height="3.7" fill="#0e1018"/>
<rect x="334.8" y="727.5999999999999" width="23.3" height="23.1" fill="#7b8090"/><rect x="334.8" y="727.5999999999999" width="23.3" height="5.2" fill="#888d9b"/><rect x="336.00" y="734.50" width="3.9" height="3.7" fill="#0e1018"/><rect x="341.65" y="734.50" width="3.9" height="3.7" fill="#0e1018"/><rect x="347.30" y="734.50" width="3.9" height="3.7" fill="#0e1018"/><rect x="352.95" y="734.50" width="3.9" height="3.7" fill="#0e1018"/><rect x="336.00" y="740.00" width="3.9" height="3.7" fill="#0e1018"/><rect x="341.65" y="740.00" width="3.9" height="3.7" fill="#0e1018"/><rect x="347.30" y="740.00" width="3.9" height="3.7" fill="#0e1018"/><rect x="352.95" y="740.00" width="3.9" height="3.7" fill="#0e1018"/><rect x="336.00" y="745.50" width="3.9" height="3.7" fill="#0e1018"/><rect x="341.65" y="745.50" width="3.9" height="3.7" fill="#0e1018"/><rect x="347.30" y="745.50" width="3.9" height="3.7" fill="#0e1018"/><rect x="352.95" y="745.50" width="3.9" height="3.7" fill="#0e1018"/>
<rect x="588.6" y="727.5999999999999" width="23.3" height="23.1" fill="#7b8090"/><rect x="588.6" y="727.5999999999999" width="23.3" height="5.2" fill="#888d9b"/><rect x="589.80" y="734.50" width="3.9" height="3.7" fill="#0e1018"/><rect x="595.45" y="734.50" width="3.9" height="3.7" fill="#0e1018"/><rect x="601.10" y="734.50" width="3.9" height="3.7" fill="#0e1018"/><rect x="606.75" y="734.50" width="3.9" height="3.7" fill="#0e1018"/><rect x="589.80" y="740.00" width="3.9" height="3.7" fill="#0e1018"/><rect x="595.45" y="740.00" width="3.9" height="3.7" fill="#0e1018"/><rect x="601.10" y="740.00" width="3.9" height="3.7" fill="#0e1018"/><rect x="606.75" y="740.00" width="3.9" height="3.7" fill="#0e1018"/><rect x="589.80" y="745.50" width="3.9" height="3.7" fill="#0e1018"/><rect x="595.45" y="745.50" width="3.9" height="3.7" fill="#0e1018"/><rect x="601.10" y="745.50" width="3.9" height="3.7" fill="#0e1018"/><rect x="606.75" y="745.50" width="3.9" height="3.7" fill="#0e1018"/>
<text x="71.40" y="654.70" font-size="15" fill="#e8eaf0" textLength="44.1" lengthAdjust="spacingAndGlyphs" stroke="#e8eaf0" stroke-width="0.3">Name:</text>
<text x="592.00" y="654.70" font-size="15" fill="#e8eaf0" textLength="151.7" lengthAdjust="spacingAndGlyphs" stroke="#e8eaf0" stroke-width="0.3">Percentage complete:</text>
<text x="929.70" y="654.70" font-size="15" fill="#e8eaf0" textLength="52.9" lengthAdjust="spacingAndGlyphs" stroke="#e8eaf0" stroke-width="0.3">Priority:</text>
<text x="71.40" y="701.00" font-size="15" fill="#e8eaf0" textLength="98.1" lengthAdjust="spacingAndGlyphs" stroke="#e8eaf0" stroke-width="0.3">Planned Start:</text>
<text x="394.20" y="701.00" font-size="15" fill="#e8eaf0" textLength="32.0" lengthAdjust="spacingAndGlyphs" stroke="#e8eaf0" stroke-width="0.3">Due:</text>
<text x="665.90" y="701.00" font-size="15" fill="#e8eaf0" textLength="62.8" lengthAdjust="spacingAndGlyphs" stroke="#e8eaf0" stroke-width="0.3">Duration:</text>
<text x="917.60" y="701.00" font-size="15" fill="#e8eaf0" textLength="45.2" lengthAdjust="spacingAndGlyphs" stroke="#e8eaf0" stroke-width="0.3">Hours:</text>
<text x="1119.70" y="701.00" font-size="15" fill="#e8eaf0" textLength="35.9" lengthAdjust="spacingAndGlyphs" stroke="#e8eaf0" stroke-width="0.3">Cost:</text>
<text x="71.40" y="744.00" font-size="15" fill="#e8eaf0" textLength="85.5" lengthAdjust="spacingAndGlyphs" stroke="#e8eaf0" stroke-width="0.3">Actual Start:</text>
<text x="381.50" y="744.00" font-size="15" fill="#e8eaf0" textLength="44.7" lengthAdjust="spacingAndGlyphs" stroke="#e8eaf0" stroke-width="0.3">Finish:</text>
<text x="665.90" y="744.00" font-size="15" fill="#e8eaf0" textLength="62.8" lengthAdjust="spacingAndGlyphs" stroke="#e8eaf0" stroke-width="0.3">Duration:</text>
<text x="917.60" y="744.00" font-size="15" fill="#e8eaf0" textLength="45.2" lengthAdjust="spacingAndGlyphs" stroke="#e8eaf0" stroke-width="0.3">Hours:</text>
<text x="1119.70" y="744.00" font-size="15" fill="#e8eaf0" textLength="35.9" lengthAdjust="spacingAndGlyphs" stroke="#e8eaf0" stroke-width="0.3">Cost:</text>
<text x="71.40" y="787.00" font-size="15" fill="#e8eaf0" textLength="100.3" lengthAdjust="spacingAndGlyphs" stroke="#e8eaf0" stroke-width="0.3">Baseline Start:</text>
<text x="381.50" y="787.00" font-size="15" fill="#e8eaf0" textLength="44.7" lengthAdjust="spacingAndGlyphs" stroke="#e8eaf0" stroke-width="0.3">Finish:</text>
<text x="665.90" y="787.00" font-size="15" fill="#e8eaf0" textLength="62.8" lengthAdjust="spacingAndGlyphs" stroke="#e8eaf0" stroke-width="0.3">Duration:</text>
<text x="917.60" y="787.00" font-size="15" fill="#e8eaf0" textLength="45.2" lengthAdjust="spacingAndGlyphs" stroke="#e8eaf0" stroke-width="0.3">Hours:</text>
<text x="136.40" y="658.00" font-size="18" fill="#f2f3f7" textLength="330.5" lengthAdjust="spacingAndGlyphs" stroke="#f2f3f7" stroke-width="0.3">Evaluate Customer Segments and Needs</text>
<text x="764.20" y="658.00" font-size="18" fill="#f2f3f7" textLength="42.3" lengthAdjust="spacingAndGlyphs" stroke="#f2f3f7" stroke-width="0.3">100%</text>
<text x="998.70" y="658.00" font-size="18" fill="#f2f3f7" textLength="63.9" lengthAdjust="spacingAndGlyphs" stroke="#f2f3f7" stroke-width="0.3">Medium</text>
<path d="M1140.9,646.6 H1153.4 L1147.15,652.6 Z" fill="#8e929e"/>
<text x="199.20" y="702.10" font-size="18" fill="#f2f3f7" textLength="82.6" lengthAdjust="spacingAndGlyphs" stroke="#f2f3f7" stroke-width="0.3">3/31/2022</text>
<text x="453.30" y="702.10" font-size="18" fill="#f2f3f7" textLength="82.4" lengthAdjust="spacingAndGlyphs" stroke="#f2f3f7" stroke-width="0.3">3/31/2022</text>
<text x="199.20" y="745.00" font-size="18" fill="#f2f3f7" textLength="71.6" lengthAdjust="spacingAndGlyphs" stroke="#f2f3f7" stroke-width="0.3">4/1/2022</text>
<text x="453.30" y="745.00" font-size="18" fill="#f2f3f7" textLength="74.3" lengthAdjust="spacingAndGlyphs" stroke="#f2f3f7" stroke-width="0.3">4/2/2022</text>
<text x="755.80" y="702.10" font-size="18" fill="#f2f3f7" textLength="41.4" lengthAdjust="spacingAndGlyphs" stroke="#f2f3f7" stroke-width="0.3">1 day</text>
<text x="755.80" y="745.00" font-size="18" fill="#f2f3f7" textLength="41.4" lengthAdjust="spacingAndGlyphs" stroke="#f2f3f7" stroke-width="0.3">1 day</text>
<text x="989.90" y="702.10" font-size="18" fill="#f2f3f7" textLength="68.8" lengthAdjust="spacingAndGlyphs" stroke="#f2f3f7" stroke-width="0.3">14 hours</text>
<text x="989.90" y="745.00" font-size="18" fill="#f2f3f7" textLength="60.6" lengthAdjust="spacingAndGlyphs" stroke="#f2f3f7" stroke-width="0.3">2 hours</text>
<text x="1183.80" y="702.10" font-size="18" fill="#f2f3f7" textLength="81.8" lengthAdjust="spacingAndGlyphs" stroke="#f2f3f7" stroke-width="0.3">$2,000.00</text>
<text x="1183.80" y="745.00" font-size="18" fill="#f2f3f7" textLength="81.8" lengthAdjust="spacingAndGlyphs" stroke="#f2f3f7" stroke-width="0.3">$3,000.00</text>
<rect x="1452.55" y="637.75" width="16.00" height="16.20" fill="#262a35" stroke="#4c505c" stroke-width="1.5"/>
<rect x="1452.55" y="663.45" width="16.00" height="16.10" fill="#262a35" stroke="#4c505c" stroke-width="1.5"/>
<text x="1475.30" y="649.40" font-size="15" fill="#e8eaf0" stroke="#e8eaf0" stroke-width="0.3">Locked</text>
<text x="1475.30" y="674.70" font-size="15" fill="#e8eaf0" textLength="66.7" lengthAdjust="spacingAndGlyphs" stroke="#e8eaf0" stroke-width="0.3">Milestone</text>
<circle cx="1542.3" cy="644.7" r="8.9" fill="none" stroke="#d6d8e0" stroke-width="1.4"/><path d="M1542.3,643 V649.4" stroke="#d6d8e0" stroke-width="2"/><circle cx="1542.3" cy="640.1" r="1.2" fill="#d6d8e0"/></svg>
</body></html>
